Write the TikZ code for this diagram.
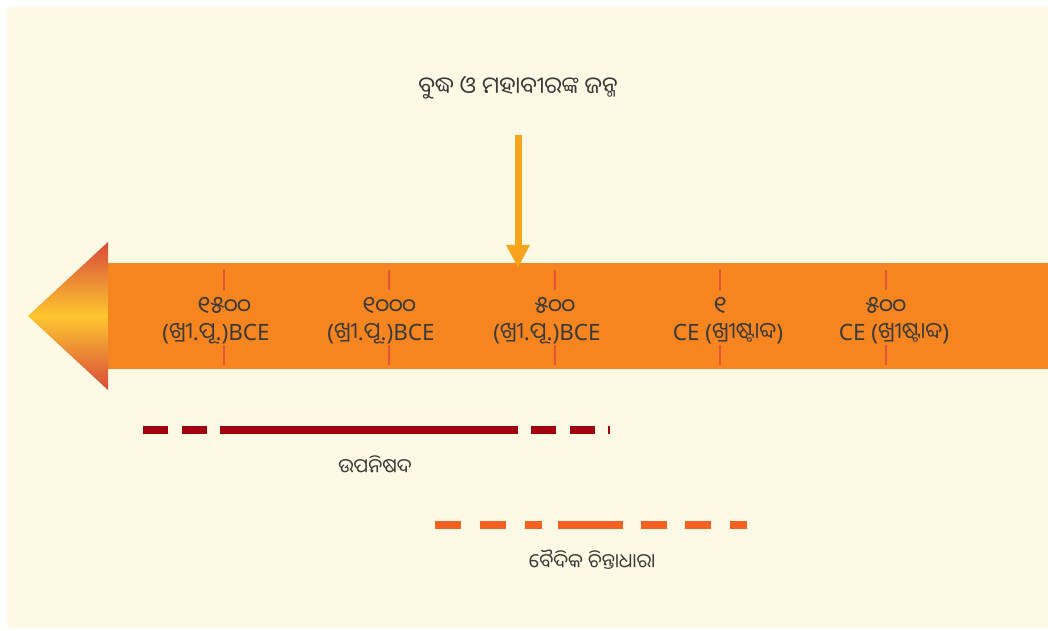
\documentclass[tikz,border=0pt]{standalone}
\usepackage{fontspec}
\setmainfont{Noto Sans}
\newfontfamily\odia[Script=Oriya]{Noto Sans Oriya UI}
\usepackage{tikz}
\usetikzlibrary{arrows.meta,positioning}

\definecolor{cream}{HTML}{FEF9E5}
\definecolor{band}{HTML}{F6841F}
\definecolor{trired}{HTML}{D84A3C}
\definecolor{triyel}{HTML}{FDC62F}
\definecolor{tickred}{HTML}{E2553A}
\definecolor{arryel}{HTML}{F5A41B}
\definecolor{upred}{HTML}{A3000F}
\definecolor{vedor}{HTML}{F45F22}
\definecolor{ink}{HTML}{3A3A3A}

\begin{document}
\begin{tikzpicture}[>=Latex,
  yr/.style={font=\odia\fontsize{17}{17}\selectfont,text=ink},
  era/.style={font=\fontsize{16}{16}\selectfont,text=ink},
  tk/.style={line width=2pt,tickred},
  perlab/.style={font=\odia\fontsize{14}{14}\selectfont,text=ink},
  upl/.style={line width=0.2cm,upred},
  vdl/.style={line width=0.2cm,vedor},
  birth/.style={-{Triangle[width=0.55cm,length=0.575cm]},line width=0.175cm,arryel}]
\useasboundingbox (0,0) rectangle (26.2,15.75);
\fill[white] (0,0) rectangle (26.2,15.75);
\fill[cream] (0.175,0.05) rectangle (26.2,15.575);
% time band with arrow head to the past
\fill[band] (2.7,6.525) rectangle (26.2,9.175);
\shade[top color=trired,bottom color=trired,middle color=triyel]
  (0.7,7.85) -- (2.7,9.7) -- (2.7,6.0) -- cycle;
\foreach \x in {5.6,9.725,13.875,18.0,22.15}{
  \draw[tk] (\x,9.0) -- (\x,8.5); \draw[tk] (\x,7.125) -- (\x,6.625);}
\node[yr] (y1) at (5.6,8.1) {୧୫୦୦};   \node[era] (e1) at (5.4,7.4) {({\odia ଖ୍ରୀ}.{\odia ପୂ}.)BCE};
\node[yr] (y2) at (9.725,8.1) {୧୦୦୦}; \node[era] (e2) at (9.525,7.4) {({\odia ଖ୍ରୀ}.{\odia ପୂ}.)BCE};
\node[yr] (y3) at (13.875,8.1) {୫୦୦}; \node[era] (e3) at (13.675,7.4) {({\odia ଖ୍ରୀ}.{\odia ପୂ}.)BCE};
\node[yr] (y4) at (18.0,8.1) {୧};     \node[era] (e4) at (18.2,7.4) {CE ({\odia ଖ୍ରୀଷ୍ଟାବ୍ଦ})};
\node[yr] (y5) at (22.15,8.1) {୫୦୦};  \node[era] (e5) at (22.35,7.4) {CE ({\odia ଖ୍ରୀଷ୍ଟାବ୍ଦ})};
% birth of Buddha and Mahavira
\node[font=\odia\fontsize{16.5}{16.5}\selectfont,text=ink] (title) at (12.95,13.55) {ବୁଦ୍ଧ ଓ ମହାବୀରଙ୍କ ଜନ୍ମ};
\coordinate (bt) at (12.95,12.375); \coordinate (bh) at (12.95,9.05);
\draw[birth] (bt) -- (bh);
% periods
\foreach \a/\b in {3.575/4.2,4.55/5.175,5.5/12.95,13.275/13.9,14.25/14.875,15.2/15.25}
  \draw[upl] (\a,5) -- (\b,5);
\node[perlab] (upa) at (9.375,4.125) {ଉପନିଷଦ};
\foreach \a/\b in {10.875/11.525,12.0/12.65,13.125/13.55,13.95/15.575,16.025/16.675,17.125/17.775,18.25/18.675}
  \draw[vdl] (\a,2.625) -- (\b,2.625);
\node[perlab] (ved) at (14.8,1.75) {ବୈଦିକ ଚିନ୍ତାଧାରା};
\end{tikzpicture}
\end{document}
